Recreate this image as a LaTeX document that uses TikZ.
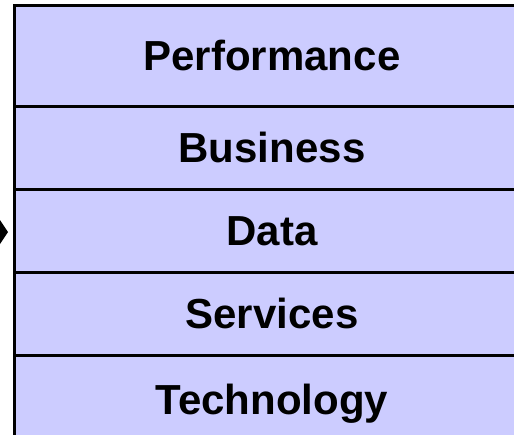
\documentclass[tikz,border=0pt]{standalone}
\usepackage{fontspec}
\setmainfont{Liberation Sans}
\usepackage{tikz}
\usetikzlibrary{positioning}
\definecolor{layerfill}{HTML}{CCCCFF}

\begin{document}
\begin{tikzpicture}[x=1pt,y=-1pt,node distance=0pt,
        layer/.style={draw=black,line width=3pt,fill=layerfill,
          minimum width=516pt,minimum height=83pt,inner sep=0pt,outer sep=0pt,
          text height=30pt,text depth=0pt,
          font=\fontsize{42}{50}\selectfont\bfseries}]
        \useasboundingbox (0,0) rectangle (514,434);
        \node[layer,anchor=north west,minimum height=101pt] (perf) at (14,5) {Performance};
        \node[layer] (bus) [below=of perf] {Business};
        \node[layer] (data) [below=of bus] {Data};
        \node[layer] (serv) [below=of data] {Services};
        \node[layer,minimum height=88pt] (tech) [below=of serv] {Technology};
        \coordinate (tip) at (8,232);
        \fill[black] (-4,214) -- (tip) -- (-4,250) -- cycle;
    \end{tikzpicture}
\end{document}
